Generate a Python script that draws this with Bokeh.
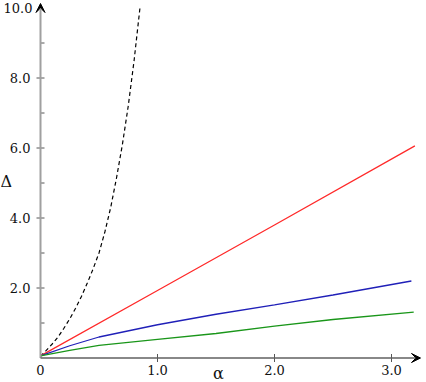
import math
from bokeh.plotting import figure
from bokeh.models import Range1d, Arrow, VeeHead
from bokeh.core.properties import value
from bokeh.embed import file_html
from bokeh.resources import INLINE

# ---- data ----
red_x = [0.0, 1.0, 2.0, 3.2]
red_y = [0.06, 1.93, 3.80, 6.06]

blue_x = [0.0, 0.25, 0.5, 1.0, 1.5, 2.0, 2.5, 3.17]
blue_y = [0.06, 0.35, 0.60, 0.95, 1.25, 1.52, 1.80, 2.20]

green_x = [0.0, 0.25, 0.5, 1.0, 1.5, 2.0, 2.5, 3.19]
green_y = [0.06, 0.22, 0.36, 0.53, 0.70, 0.91, 1.10, 1.31]

dash_x = [0.0, 0.05, 0.1, 0.15, 0.2, 0.25, 0.3, 0.35, 0.4, 0.45,
          0.5, 0.55, 0.6, 0.65, 0.7, 0.75, 0.8, 0.85]
dash_y = [0.05, 0.22, 0.40, 0.60, 0.85, 1.12, 1.42, 1.76, 2.14, 2.55,
          3.00, 3.60, 4.30, 5.15, 6.10, 7.20, 8.50, 10.0]

x_ticks = [1.0, 2.0, 3.0]
x_label_pos = [0.0, 1.0, 2.0, 3.0]
x_labels = ["0", "1.0", "2.0", "3.0"]
y_ticks = [2.0, 4.0, 6.0, 8.0]
y_minor = [1.0, 3.0, 5.0, 7.0, 9.0]
y_labels = ["2.0", "4.0", "6.0", "8.0"]
y_top_label = ["10.0"]
y_top_pos = [10.0]
x_title = "α"
y_title = "Δ"

# ---- layout ----
W, H = 426, 382
ppu_x, ppu_y = 117.0, 35.0
ox, oy = 40.0, 357.5          # pixel position of the origin
X0, X1 = -ox / ppu_x, (W - ox) / ppu_x
Y0, Y1 = -(H - oy) / ppu_y, oy / ppu_y

p = figure(width=W, height=H, x_range=Range1d(X0, X1), y_range=Range1d(Y0, Y1),
           output_backend="svg", toolbar_location=None,
           x_axis_location=None, y_axis_location=None, min_border=0)
p.min_border_left = p.min_border_right = p.min_border_top = p.min_border_bottom = 0
p.outline_line_color = None
p.xgrid.visible = False
p.ygrid.visible = False
p.background_fill_color = "white"
p.border_fill_color = "white"

font = value("DejaVu Serif")
txt = "#111111"

# curves
p.line(dash_x, dash_y, line_color="black", line_width=1.2, line_dash="4 3")
p.line(red_x, red_y, line_color="#ff2a2a", line_width=1.3)
p.line(blue_x, blue_y, line_color="#2020b8", line_width=1.3)
p.line(green_x, green_y, line_color="#1a961a", line_width=1.3)

# axes with arrows
p.add_layout(Arrow(end=VeeHead(size=9, fill_color="black", line_color="black", line_width=1),
                   x_start=0, y_start=0, x_end=0, y_end=Y1 - 3.0 / ppu_y,
                   line_color="#a0a0a0", line_width=2))
p.add_layout(Arrow(end=VeeHead(size=9, fill_color="black", line_color="black", line_width=1),
                   x_start=0, y_start=0, x_end=(420 - ox) / ppu_x, y_end=0,
                   line_color="#606060", line_width=1.4))

# ticks
tick_col = "#555555"
p.ray(x=x_ticks, y=[0] * len(x_ticks), length=4, angle=math.pi / 2,
      length_units="screen", line_color=tick_col, line_width=1)
p.ray(x=x_ticks, y=[0] * len(x_ticks), length=4, angle=-math.pi / 2,
      length_units="screen", line_color=tick_col, line_width=1)
p.ray(x=[0] * len(y_ticks), y=y_ticks, length=4, angle=0,
      length_units="screen", line_color=tick_col, line_width=1)
p.ray(x=[0] * len(y_ticks), y=y_ticks, length=4, angle=math.pi,
      length_units="screen", line_color=tick_col, line_width=1)
p.ray(x=[0] * len(y_minor), y=y_minor, length=4, angle=0,
      length_units="screen", line_color=tick_col, line_width=1)

# tick labels
p.text(x=x_label_pos, y=[0] * len(x_label_pos), text=x_labels, text_font=font,
       text_font_size="13px", text_align="center", text_baseline="top",
       y_offset=7, text_color=txt)
p.text(x=[0] * len(y_ticks), y=y_ticks, text=y_labels, text_font=font,
       text_font_size="13px", text_align="right", text_baseline="middle",
       x_offset=-10, text_color=txt)
p.text(x=[0] * len(y_top_pos), y=y_top_pos, text=y_top_label, text_font=font,
       text_font_size="13px", text_align="right", text_baseline="middle",
       x_offset=-8, y_offset=0, text_color=txt)

# axis titles
p.text(x=[X0], y=[(357.5 - 181) / ppu_y], text=[y_title], text_font=font,
       text_font_size="16px", text_align="left", text_baseline="middle",
       x_offset=0, text_color=txt)
p.text(x=[(218 - ox) / ppu_x], y=[0], text=[x_title], text_font=font,
       text_font_size="16px", text_align="center", text_baseline="middle",
       y_offset=15, text_color=txt)

open("out.html", "w").write(file_html(p, INLINE))
